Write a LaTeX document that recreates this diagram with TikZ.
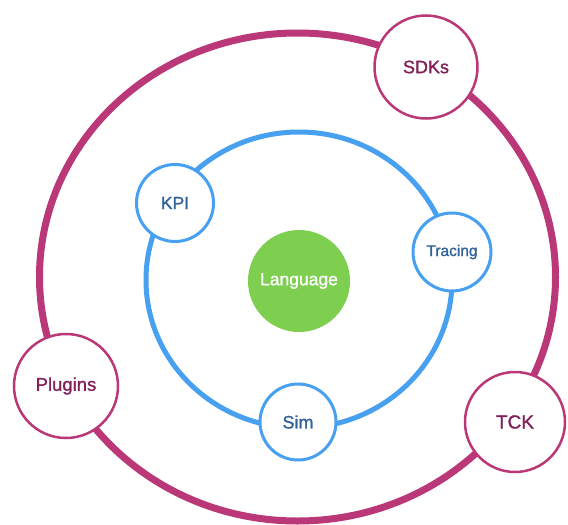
\documentclass[tikz,border=0pt]{standalone}
\usepackage{fontspec}
\setmainfont{Liberation Sans}
\newfontfamily\medfont{Liberation Sans}[FakeBold=1.2]
\definecolor{ringmag}{RGB}{187,56,120}
\definecolor{ringblue}{RGB}{72,160,240}
\definecolor{langgreen}{RGB}{126,206,80}
\definecolor{txtblue}{RGB}{48,98,152}
\definecolor{txtmag}{RGB}{130,32,88}
\tikzset{
  magnode/.style={circle, draw=ringmag, line width=2.5pt, fill=white, text=txtmag, inner sep=0pt},
  bluenode/.style={circle, draw=ringblue, line width=3pt, fill=white, text=txtblue, inner sep=0pt},
  langnode/.style={circle, fill=langgreen, text=white, inner sep=0pt},
}
\begin{document}
\begin{tikzpicture}[x=1pt,y=-1pt]
\useasboundingbox (0,0) rectangle (568,525);
\fill[white] (0,0) rectangle (568,525);
\node[coordinate] (oc) at (297.5,277) {};
\node[coordinate] (ic) at (299,280) {};
\draw[ringmag, line width=7pt] (oc) ellipse [x radius=258, y radius=244];
\draw[ringblue, line width=5pt] (ic) ellipse [x radius=153, y radius=148];
\node[langnode, minimum size=102pt, font=\medfont\fontsize{17.5}{20}\selectfont] (lang) at (299,281) {Language};
\node[bluenode, minimum size=77pt, font=\medfont\fontsize{17.5}{20}\selectfont] (kpi) at (175,203) {KPI};
\node[bluenode, minimum size=78pt, font=\medfont\fontsize{15.5}{18}\selectfont] (tracing) at (452,252) {Tracing};
\node[bluenode, minimum size=76pt, font=\medfont\fontsize{18}{20}\selectfont] (sim) at (298,422) {Sim};
\node[magnode, minimum size=103pt, font=\medfont\fontsize{18}{20}\selectfont] (sdks) at (426,67) {SDKs};
\node[magnode, minimum size=100pt, font=\medfont\fontsize{19}{20}\selectfont] (tck) at (515,422) {TCK};
\node[magnode, minimum size=104pt, font=\medfont\fontsize{18.5}{20}\selectfont] (plugins) at (66,386) {Plugins};
\end{tikzpicture}
\end{document}
